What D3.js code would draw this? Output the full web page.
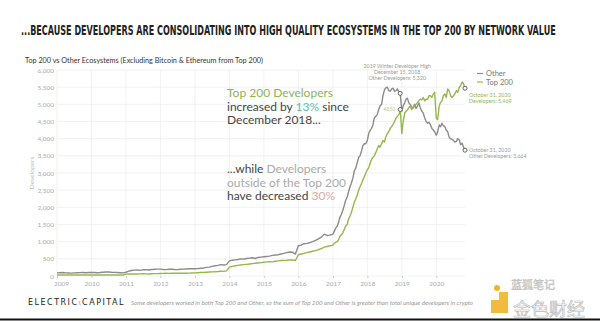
<!doctype html>
<meta charset="utf-8">
<style>
  body { margin: 0; background: #fff; }
  svg { display: block; }
  text { font-family: Lato, "Noto Sans", sans-serif; }
</style>
<body>
<script src="https://cdn.jsdelivr.net/npm/d3@7/dist/d3.min.js"></script>
<script>
// monthly developer counts, first of each month, Jan 2009 - Oct 2020
var firstMonth = "2009-01-01";

var other = [
  90, 95, 100, 92, 88, 85, 90, 95, 98, 100, 95, 100,            // 2009
  105, 100, 95, 100, 110, 115, 120, 110, 105, 100, 95, 90,       // 2010
  110, 140, 160, 170, 175, 165, 180, 185, 175, 190, 195, 200,    // 2011
  200, 190, 185, 195, 200, 190, 185, 195, 200, 205, 210, 215,    // 2012
  210, 215, 225, 230, 250, 260, 280, 300, 310, 330, 320, 330,    // 2013
  440, 460, 470, 480, 500, 490, 510, 520, 530, 510, 540, 550,    // 2014
  560, 570, 580, 600, 610, 620, 640, 660, 680, 700, 690, 640,    // 2015
  880, 900, 940, 950, 970, 1000, 1040, 1080, 1130, 1220, 1180, 1190,      // 2016
  1220, 1400, 1550, 1800, 2050, 2300, 2600, 2850, 3150, 3450, 3650, 3850, // 2017
  3950, 4250, 4400, 4650, 4850, 5000, 5420, 5500, 5380, 5470, 5400, 5350, // 2018
  4800, 5050, 5180, 4990, 4900, 4880, 5040, 4800, 4600, 4450, 4400, 4250, // 2019
  4100, 4400, 4450, 4350, 4200, 4000, 3950, 3920, 3960, 3870              // 2020
];

var top200 = [
  30, 32, 30, 28, 30, 32, 30, 30, 32, 30, 28, 30,
  30, 32, 30, 30, 28, 30, 32, 30, 30, 32, 30, 30,
  55, 60, 62, 58, 60, 62, 65, 62, 60, 65, 68, 70,
  72, 75, 78, 75, 80, 78, 82, 80, 85, 82, 85, 88,
  90, 95, 100, 105, 110, 115, 120, 125, 130, 140, 135, 150,
  260, 280, 300, 310, 320, 330, 340, 350, 360, 370, 380, 390,
  400, 410, 420, 410, 430, 440, 450, 455, 460, 470, 465, 450,
  620, 640, 660, 680, 700, 720, 740, 770, 800, 840, 860, 880,
  900, 980, 1050, 1200, 1350, 1500, 1750, 2000, 2250, 2500, 2700, 2900,
  3100, 3300, 3450, 3600, 3800, 3850, 3900, 4150, 4300, 4420, 4600, 4700,
  4150, 4750, 4840, 4950, 4900, 5000, 5100, 5130, 5100, 5150, 5250, 5300,
  4600, 4950, 5100, 5300, 5450, 5250, 5250, 5400, 5500, 5650
];

// mid-month readings (15th), Jan 2017 - Oct 2020; Dec 2018 is the marked peak
var firstMid = "2017-01-15";

var otherMid = [
  1300, 1450, 1700, 1900, 2200, 2450, 2700, 3050, 3300, 3500, 3800, 3850,
  4150, 4300, 4600, 4700, 4950, 5250, 5480, 5400, 5450, 5380, 5450, null,
  4950, 5150, 5050, 4920, 5000, 4950, 4900, 4750, 4500, 4480, 4300, 4200,
  4200, 4350, 4380, 4250, 4050, 3980, 3900, 4000, 3820, 3750
];

var top200Mid = [
  950, 1000, 1150, 1250, 1450, 1650, 1850, 2150, 2350, 2600, 2800, 3000,
  3150, 3400, 3500, 3700, 3750, 3950, 4050, 4200, 4350, 4500, 4650, null,
  4500, 4800, 4900, 4850, 4950, 5050, 5150, 5200, 5150, 5250, 5200, 5350,
  4550, 5050, 5250, 5200, 5400, 5200, 5300, 5350, 5550, 5600
];

// annotated points
var markDates = ["2018-12-15", "2020-10-31"];
var otherMarks = [5320, 3664];
var top200Marks = [4850, 5469];

var yTicks = [0, 500, 1000, 1500, 2000, 2500, 3000, 3500, 4000, 4500, 5000, 5500, 6000];
var years = [2009, 2010, 2011, 2012, 2013, 2014, 2015, 2016, 2017, 2018, 2019, 2020];

var W = 600, H = 321;
var grey = "#8b8b8b", green = "#95b84c";

var parse = d3.timeParse("%Y-%m-%d");
var start = parse(firstMonth), midStart = parse(firstMid);

function series(values, mids, marks){
  var pts = values.map(function(v, i){ return {date: d3.timeMonth.offset(start, i), value: v}; });
  mids.forEach(function(v, i){
    if (v != null) pts.push({date: d3.timeMonth.offset(midStart, i), value: v});
  });
  markDates.forEach(function(d, i){ pts.push({date: parse(d), value: marks[i]}); });
  pts.sort(function(a, b){ return a.date - b.date; });
  return pts;
}

var otherPts = series(other, otherMid, otherMarks),
    topPts = series(top200, top200Mid, top200Marks);

var svg = d3.select("body").append("svg").attr("width", W).attr("height", H);
svg.append("rect").attr("width", W).attr("height", H).attr("fill", "#fff");

var x = d3.scaleTime().domain([start, parse(markDates[1])]).range([57, 465]),
    y = d3.scaleLinear().domain([0, 6000]).range([276, 70]);

// title, squeezed horizontally to a condensed look
var title = svg.append("text")
  .style("font-family", "'DejaVu Sans Condensed', 'Liberation Sans Narrow', sans-serif")
  .style("font-weight", "bold").style("font-size", "14px").attr("fill", "#222")
  .text("...BECAUSE DEVELOPERS ARE CONSOLIDATING INTO HIGH QUALITY ECOSYSTEMS IN THE TOP 200 BY NETWORK VALUE");
var tw = title.node().getComputedTextLength();
title.attr("transform", "translate(21,35) scale(" + (535 / tw) + ",1)");

svg.append("text")
  .attr("x", 25).attr("y", 63)
  .attr("textLength", 238).attr("lengthAdjust", "spacingAndGlyphs")
  .style("font-size", "8px").attr("fill", "#333")
  .text("Top 200 vs Other Ecosystems (Excluding Bitcoin & Ethereum from Top 200)");

// grid
var grid = svg.append("g");
grid.selectAll(".h").data(yTicks).enter().append("line")
  .attr("x1", 57).attr("x2", 465)
  .attr("y1", function(d){ return y(d); }).attr("y2", function(d){ return y(d); })
  .attr("stroke", "#ececec").attr("stroke-width", 0.7);
grid.selectAll(".v").data(years).enter().append("line")
  .attr("x1", function(d){ return x(new Date(d, 0, 1)); })
  .attr("x2", function(d){ return x(new Date(d, 0, 1)); })
  .attr("y1", 70).attr("y2", 276)
  .attr("stroke", "#ececec").attr("stroke-width", 0.7);

// axes
var yAxis = svg.append("g").attr("transform", "translate(57,0)")
  .call(d3.axisLeft(y).tickValues(yTicks).tickSize(0).tickPadding(3).tickFormat(d3.format(",")));
yAxis.select(".domain").remove();
yAxis.selectAll("text").attr("fill", "#aaa").style("font-size", "6.5px").style("font-family", "Lato, sans-serif");

var xAxis = svg.append("g").attr("transform", "translate(0,276)")
  .call(d3.axisBottom(x).tickValues(years.map(function(d){ return new Date(d, 0, 1); }))
    .tickSize(2).tickPadding(3).tickFormat(d3.timeFormat("%Y")));
xAxis.select(".domain").remove();
xAxis.selectAll("line").attr("stroke", "#ccc");
xAxis.selectAll("text").attr("fill", "#aaa").style("font-size", "6.5px").style("font-family", "Lato, sans-serif");
xAxis.select(".tick text").attr("dx", 4);

svg.append("text")
  .attr("transform", "translate(34,173) rotate(-90)")
  .attr("text-anchor", "middle").attr("fill", "#bbb").style("font-size", "6.5px")
  .text("Developers");

// lines
var line = d3.line()
  .x(function(d){ return x(d.date); })
  .y(function(d){ return y(d.value); });

svg.append("path").datum(otherPts).attr("d", line)
  .attr("fill", "none").attr("stroke", grey).attr("stroke-width", 1.4).attr("stroke-linejoin", "round");
svg.append("path").datum(topPts).attr("d", line)
  .attr("fill", "none").attr("stroke", green).attr("stroke-width", 1.4).attr("stroke-linejoin", "round");

// markers
var marks = [];
markDates.forEach(function(d, i){
  marks.push({date: parse(d), value: otherMarks[i]});
  marks.push({date: parse(d), value: top200Marks[i]});
});
svg.selectAll(".mark").data(marks).enter().append("circle")
  .attr("cx", function(d){ return x(d.date); })
  .attr("cy", function(d){ return y(d.value); })
  .attr("r", 2).attr("fill", "#fff").attr("stroke", "#555").attr("stroke-width", 0.9);

// small annotations
var peakX = x(parse(markDates[0]));
var peakNote = svg.append("text").attr("text-anchor", "middle").attr("fill", "#9a9a9a").style("font-size", "5.3px");
["2019 Winter Developer High", "December 15, 2018", "Other Developers: " + d3.format(",")(otherMarks[0])]
  .forEach(function(t, i){
    peakNote.append("tspan").attr("x", peakX - 3).attr("y", 67.5 + i * 6.3).text(t);
  });

svg.append("text")
  .attr("x", peakX - 5).attr("y", y(top200Marks[0]) + 2)
  .attr("text-anchor", "end").attr("fill", "#b7cc8a").style("font-size", "5px")
  .text(top200Marks[0]);

var endX = x(parse(markDates[1])) + 4;
var endTop = svg.append("text").attr("fill", green).style("font-size", "5.3px");
endTop.append("tspan").attr("x", endX).attr("y", y(top200Marks[1]) + 8.5).text("October 31, 2020");
endTop.append("tspan").attr("x", endX).attr("y", y(top200Marks[1]) + 14.5).text("Developers: " + d3.format(",")(top200Marks[1]));

var endOther = svg.append("text").attr("fill", "#9a9a9a").style("font-size", "5.3px");
endOther.append("tspan").attr("x", endX).attr("y", y(otherMarks[1]) + 2).text("October 31, 2020");
endOther.append("tspan").attr("x", endX).attr("y", y(otherMarks[1]) + 8).text("Other Developers: " + d3.format(",")(otherMarks[1]));

// legend
var legend = svg.append("g").attr("transform", "translate(477,0)");
[["Other", grey, 76], ["Top 200", green, 84.5]].forEach(function(l){
  legend.append("line").attr("x1", 0).attr("x2", 6).attr("y1", l[2] - 2.5).attr("y2", l[2] - 2.5)
    .attr("stroke", l[1]).attr("stroke-width", 1.2);
  legend.append("text").attr("x", 9).attr("y", l[2]).attr("fill", "#777").style("font-size", "7.5px").text(l[0]);
});

// callout text
function callout(lines, y0){
  lines.forEach(function(parts, i){
    var t = svg.append("text").attr("x", 227).attr("y", y0 + i * 13.6).style("font-size", "12px");
    parts.forEach(function(p){ t.append("tspan").attr("fill", p[1]).text(p[0]); });
  });
}
callout([
  [["Top 200 Developers", "#8cb35a"]],
  [["increased by ", "#444"], ["13%", "#5bbfae"], [" since", "#444"]],
  [["December 2018...", "#444"]]
], 97);
callout([
  [["...while ", "#444"], ["Developers", "#aaa"]],
  [["outside of the Top 200", "#aaa"]],
  [["have decreased ", "#444"], ["30%", "#dba8a6"]]
], 173);

// footer
var logo = svg.append("text").attr("x", 28).attr("y", 305)
  .style("font-family", "'DejaVu Sans', sans-serif").style("font-size", "8px")
  .style("letter-spacing", "1.5px").attr("fill", "#222");
logo.append("tspan").text("ELECTRIC");
logo.append("tspan").attr("fill", "#777").style("font-size", "6px").text("\\");
logo.append("tspan").text("CAPITAL");

svg.append("text").attr("x", 131).attr("y", 304.5)
  .attr("textLength", 342).attr("lengthAdjust", "spacingAndGlyphs")
  .style("font-size", "5.6px").style("font-style", "italic").attr("fill", "#999")
  .text("Some developers worked in both Top 200 and Other, so the sum of Top 200 and Other is greater than total unique developers in crypto");

// watermark
var wm = svg.append("g");
wm.append("path").attr("d", "M491,300 h8 v-8 h9 v21 h-17 z").attr("fill", "#f0b429").attr("opacity", 0.9);
wm.append("circle").attr("cx", 497).attr("cy", 288).attr("r", 3).attr("fill", "#f0b429");
wm.append("text").attr("x", 511).attr("y", 289).style("font-family", "'Noto Sans CJK SC', sans-serif")
  .style("font-size", "11px").attr("fill", "#ddd").attr("stroke", "#bbb").attr("stroke-width", 0.4).text("蓝狐笔记");
wm.append("text").attr("x", 513).attr("y", 316).style("font-family", "'Noto Sans CJK SC', sans-serif")
  .style("font-size", "18px").attr("fill", "#fff").attr("stroke", "#bbb").attr("stroke-width", 0.7).text("金色财经");

svg.append("line").attr("x1", 0).attr("x2", W).attr("y1", 319.5).attr("y2", 319.5)
  .attr("stroke", "#111").attr("stroke-width", 2);
</script>
</body>
